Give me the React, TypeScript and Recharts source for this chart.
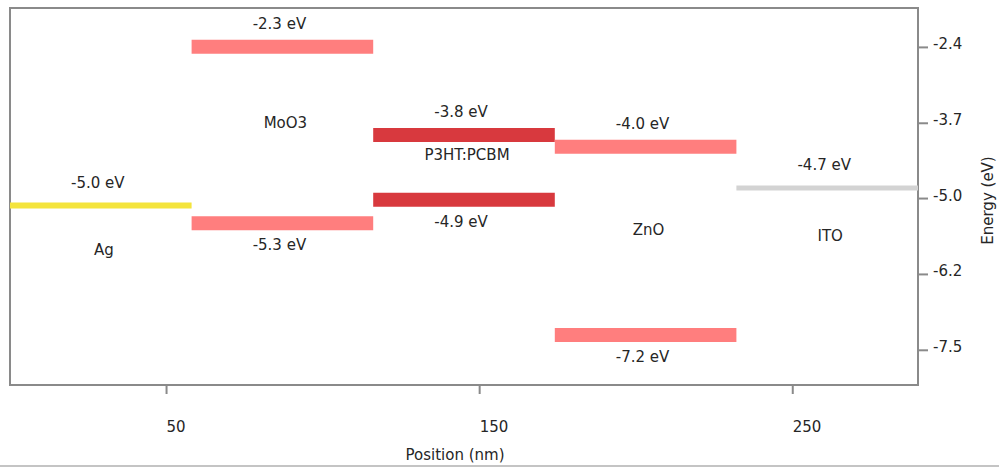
import React from 'react'
import { ComposedChart, Line, Scatter, XAxis, YAxis, ReferenceArea, LabelList } from 'recharts'

// device stack, left to right (position in nm)
const layerNames = ['Ag', 'MoO3', 'P3HT:PCBM', 'ZnO', 'ITO']
const layerEdges = [0, 58, 116, 174, 232, 290]

// energy levels (eV) and the layer each one belongs to
const levelLayer = [0, 1, 1, 2, 2, 3, 3, 4]
const levelEnergy = [-5.0, -2.3, -5.3, -3.8, -4.9, -4.0, -7.2, -4.7]

const xTicks = [50, 150, 250]
const yTicks = [-2.31, -3.6, -4.88, -6.17, -7.46]
const yTickLabels = ['-2.4', '-3.7', '-5.0', '-6.2', '-7.5']

// look
const layerColor = ['#f4e43c', '#ff7e7e', '#d8393e', '#ff7e7e', '#d3d3d3']
const layerThickness = [6, 14, 14, 14, 5]
const nameEnergy = [-5.76, -3.59, -4.14, -5.42, -5.51] // where the layer names sit
const Y_DOMAIN: [number, number] = [-8.05, -1.64]
const FONT = 'DejaVu Sans'
const INK = '#262626'
const FRAME = '#8a8a8a'

const levels = levelEnergy.map((e, i) => {
  const layer = levelLayer[i]
  const x0 = layerEdges[layer]
  const x1 = layerEdges[layer + 1]
  // lower level of a pair gets its label underneath
  const below = levelEnergy.some((o, j) => j !== i && levelLayer[j] === layer && o > e)
  return {
    layer,
    below,
    data: [
      { x: x0, e },
      { x: (x0 + x1) / 2, e, label: `${e.toFixed(1)} eV` },
      { x: x1, e },
    ],
  }
})

const names = layerNames.map((name, i) => ({
  x: (layerEdges[i] + layerEdges[i + 1]) / 2,
  e: nameEnergy[i],
  name,
}))

const txt = { fontFamily: FONT, fontSize: 15, fill: INK }

const XTick = ({ x, y, payload }: any) => (
  <text x={x} y={y} dy={38} textAnchor="start" {...txt}>
    {payload.value}
  </text>
)

const YTick = ({ x, y, payload }: any) => (
  <text x={x} y={y} dy={2} textAnchor="start" {...txt}>
    {yTickLabels[yTicks.indexOf(payload.value)]}
  </text>
)

const XTitle = ({ viewBox }: any) => {
  const vb = viewBox || { x: 10, y: 385, width: 908 }
  return (
    <text x={vb.x + vb.width / 2 - 9} y={vb.y + 75} textAnchor="middle" {...txt}>
      Position (nm)
    </text>
  )
}

const YTitle = ({ viewBox }: any) => {
  const vb = viewBox || { x: 918, y: 8, height: 377 }
  const cx = vb.x + 75
  const cy = vb.y + vb.height / 2 + 4
  return (
    <text x={cx} y={cy} textAnchor="middle" transform={`rotate(-90, ${cx}, ${cy})`} {...txt}>
      Energy (eV)
    </text>
  )
}

const levelLabel = (below: boolean) => (p: any) => {
  if (!p.value) return null
  return (
    <text x={p.x - 3} y={p.y + (below ? 27 : -18)} textAnchor="middle" {...txt}>
      {p.value}
    </text>
  )
}

const NameShape = (p: any) => (
  <text x={p.cx + 3} y={p.cy} dy={5} textAnchor="middle" {...txt}>
    {p.payload.name}
  </text>
)

export default function App() {
  return (
    <div style={{ position: 'absolute', left: 0, top: 0, width: 999, height: 468, background: '#fff' }}>
      <ComposedChart width={999} height={468} margin={{ top: 8, right: 0, bottom: 8, left: 10 }}>
        <XAxis
          type="number"
          dataKey="x"
          domain={[0, 290]}
          ticks={xTicks}
          interval={0}
          axisLine={false}
          tickLine={{ stroke: FRAME, strokeWidth: 2 }}
          tickSize={9}
          tickMargin={0}
          tick={<XTick />}
          height={75}
          label={<XTitle />}
        />
        <YAxis
          type="number"
          dataKey="e"
          orientation="right"
          domain={Y_DOMAIN}
          ticks={yTicks}
          interval={0}
          axisLine={false}
          tickLine={{ stroke: FRAME, strokeWidth: 2 }}
          tickSize={10}
          tickMargin={5}
          tick={<YTick />}
          width={81}
          label={<YTitle />}
        />
        <ReferenceArea
          x1={0}
          x2={290}
          y1={Y_DOMAIN[0]}
          y2={Y_DOMAIN[1]}
          fill="none"
          stroke={FRAME}
          strokeWidth={2}
          fillOpacity={0}
        />
        {levels.map((lv, i) => (
          <Line
            key={i}
            data={lv.data}
            dataKey="e"
            type="linear"
            stroke={layerColor[lv.layer]}
            strokeWidth={layerThickness[lv.layer]}
            dot={false}
            activeDot={false}
            isAnimationActive={false}
          >
            <LabelList dataKey="label" content={levelLabel(lv.below)} />
          </Line>
        ))}
        <Scatter data={names} dataKey="e" shape={NameShape} isAnimationActive={false} />
      </ComposedChart>
      <div style={{ position: 'absolute', left: 0, top: 465, width: 999, height: 2, background: '#c4c4c4' }} />
    </div>
  )
}
